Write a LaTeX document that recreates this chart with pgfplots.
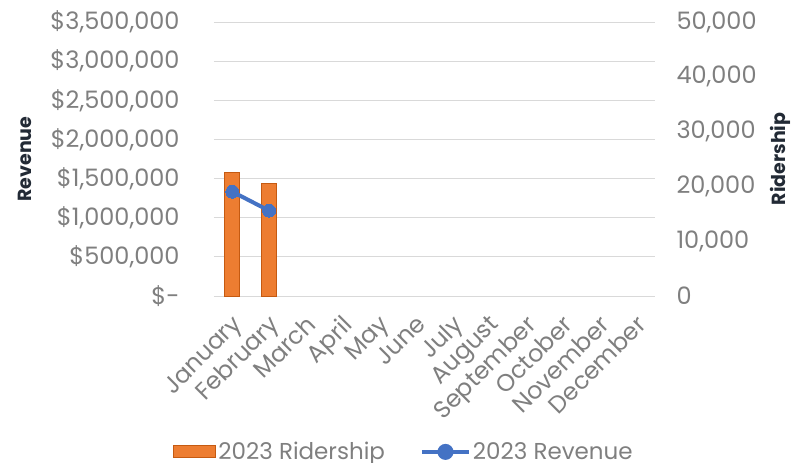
\documentclass[border=0pt]{standalone}
\usepackage{pgfplots}
\pgfplotsset{compat=1.18}
\usepackage{fontspec}
\setmainfont{Poppins}
\definecolor{tickgray}{HTML}{7F7F7F}
\definecolor{gridgray}{HTML}{D9D9D9}
\definecolor{barorange}{HTML}{ED7D31}
\definecolor{bardark}{HTML}{C55A11}
\definecolor{revblue}{HTML}{4472C4}
\definecolor{titlenavy}{HTML}{222A35}
\begin{document}
\begin{tikzpicture}
\pgfplotsset{
  every axis/.append style={
    width=441bp, height=274bp, scale only axis,
    xmin=-0.5, xmax=11.5,
    font=\fontsize{24bp}{28bp}\selectfont,
    tick label style={text=tickgray, font=\fontsize{24bp}{28bp}\selectfont},
    /pgf/number format/assume math mode=true,
  }
}
% left axis: grid and tick labels
\begin{axis}[
  axis y line*=left, axis x line=none,
  ymin=0, ymax=3500000,
  ytick={0,500000,1000000,1500000,2000000,2500000,3000000,3500000},
  yticklabels={\$-,{\$500,000},{\$1,000,000},{\$1,500,000},{\$2,000,000},{\$2,500,000},{\$3,000,000},{\$3,500,000}},
  scaled y ticks=false,
  ymajorgrids, grid style={draw=gridgray, line width=1bp},
  y axis line style={draw=none}, major y tick style={draw=none},
  yticklabel style={xshift=-31bp},
  ylabel={Revenue},
  ylabel style={at={(axis description cs:-0.4286,0.5)}, anchor=center, font=\fontsize{19bp}{22bp}\selectfont\bfseries, text=titlenavy},
]
\end{axis}
% right axis: bars
\begin{axis}[
  axis y line*=right, axis x line*=bottom,
  ymin=0, ymax=50000,
  ytick={0,10000,20000,30000,40000,50000},
  yticklabels={0,{10,000},{20,000},{30,000},{40,000},{50,000}},
  scaled y ticks=false,
  y axis line style={draw=none}, major y tick style={draw=none},
  x axis line style={draw=gridgray, line width=1bp},
  yticklabel style={xshift=18bp},
  xtick={0,1,2,3,4,5,6,7,8,9,10,11},
  xticklabels={January,February,March,April,May,June,July,August,September,October,November,December},
  major x tick style={draw=none},
  xticklabel style={rotate=45, anchor=north east, xshift=-7bp, yshift=-5bp},
  extra x ticks={-0.5,0.5,1.5,2.5,3.5,4.5,5.5,6.5,7.5,8.5,9.5,10.5,11.5},
  extra x tick labels={},
  extra x tick style={major tick length=6bp, tick align=outside, tick style={draw=gridgray, line width=1bp}},
  ylabel={Ridership},
  ylabel style={at={(axis description cs:1.2834,0.5)}, anchor=center, rotate=0, font=\fontsize{19bp}{22bp}\selectfont\bfseries, text=titlenavy},
  ybar, bar width=15bp,
]
\addplot[fill=barorange, draw=bardark, line width=1bp] coordinates {(0,22500) (1,20600)};
\end{axis}
% left axis again: line and legend
\begin{axis}[
  hide axis,
  ymin=0, ymax=3500000,
  legend columns=2,
  legend style={at={(axis description cs:0.431,-0.569)}, anchor=center, draw=none, fill=none,
    text=tickgray, font=\fontsize{23bp}{27bp}\selectfont,
    /tikz/every even column/.append style={column sep=33bp}},
]
\addlegendimage{legend image code/.code={\draw[fill=barorange, draw=bardark, line width=1bp] (0bp,-6bp) rectangle (42bp,6bp);}}
\addlegendentry{2023 Ridership}
\addplot[revblue, line width=4bp, mark=*, mark size=6.5bp, mark options={fill=revblue, draw=revblue, line width=0bp},
  legend image code/.code={\draw[revblue, line width=4bp] (0bp,0bp) -- (47bp,0bp); \fill[revblue] (23.5bp,0bp) circle (6bp);}]
  coordinates {(0,1332000) (1,1090000)};
\addlegendentry{2023 Revenue}
\end{axis}
\pgfresetboundingbox
\path[use as bounding box] (-214bp,-167bp) rectangle (578bp,296bp);
\end{tikzpicture}
\end{document}
